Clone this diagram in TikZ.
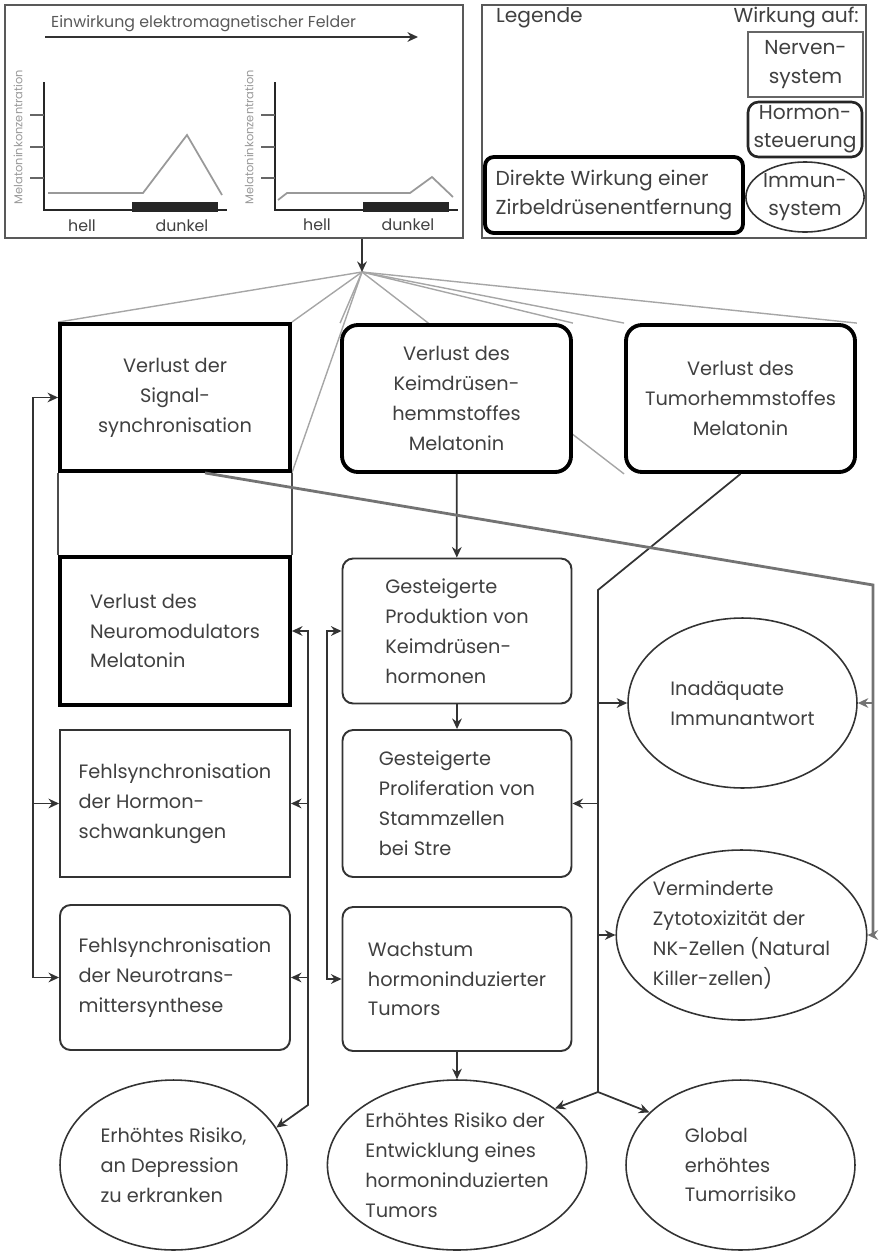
\documentclass[tikz,border=0pt]{standalone}
\usepackage{fontspec}
\setmainfont{Poppins}
\usepackage{tikz}
\usetikzlibrary{positioning, shapes.geometric, arrows.meta, backgrounds}
\hyphenpenalty=10000
\newcommand{\boxfont}{\fontsize{11}{17}\selectfont}
\newcommand{\legfont}{\fontsize{11.5}{16}\selectfont}
\newcommand{\chartfont}{\fontsize{9}{10}\selectfont}
\tikzset{
>={Stealth[length=6pt,width=5.5pt]}, % small filled arrow heads
every node/.style={text=black!75}, % the scan prints all text in dark grey
box/.style={draw=black!80, line width=1.1pt, fill=white, inner sep=0pt, minimum width=4.6cm, minimum height=2.94cm, align=center, font=\boxfont},
bold box/.style={box, draw=black, line width=2.2pt},
round box/.style={box, rounded corners=6pt},
bold round box/.style={bold box, rounded corners=9pt},
oval/.style={ellipse, draw=black!80, line width=0.9pt, fill=white, inner sep=0pt, minimum width=4.58cm, minimum height=3.4cm, align=left, font=\boxfont},
panel/.style={draw=black!65, line width=1.6pt, minimum width=9.16cm, minimum height=4.66cm},
link/.style={draw=black!80, line width=1pt},
fan/.style={draw=black!35, line width=0.8pt},
diag/.style={draw=black!55, line width=1.6pt},
axis/.style={draw=black!85, line width=1.4pt},
curve/.style={draw=black!40, line width=1pt},
}

\begin{document}
\begin{tikzpicture}[x=0.02cm, y=-0.02cm]
\useasboundingbox (0,0) rectangle (879,1251);

% the two panels at the top
\node[panel] (chart) at (234,121.5) {};
\node[panel, minimum width=7.68cm] (legend) at (674,121.5) {};

% melatonin level, light and dark
\node[anchor=west, font=\chartfont, text=black!65] (chtitle) at (45,24) {Einwirkung elektromagnetischer Felder};
\draw[link, ->] (45,37) -- (418,37);
\foreach \dx in {0,231} {
  \draw[axis] ({44+\dx},82) -- ({44+\dx},210) -- ({227+\dx},210);
  \foreach \ty in {115,147,178}
    \draw[axis, draw=black!60] ({30+\dx},\ty) -- ({44+\dx},\ty);
  \fill[black!85] ({132+\dx},202) rectangle ({218+\dx},212);
  \node[rotate=90, font=\fontsize{6.5}{7}\selectfont, text=black!40] at ({18+\dx},137) {Melatoninkonzentration};
}
\draw[curve] (48,193) -- (143,193) -- (187,135) -- (222,195);
\draw[curve] (278,200) -- (287,193) -- (410,193) -- (432,177) -- (453,197);
\node[font=\chartfont] (hell1) at (82,226) {hell};
\node[font=\chartfont] (dunkel1) at (182,226) {dunkel};
\node[font=\chartfont] (hell2) at (317,225) {hell};
\node[font=\chartfont] (dunkel2) at (408,225) {dunkel};

% legend
\node[anchor=west, font=\legfont] (legname) at (490,18) {Legende};
\node[anchor=east, font=\legfont] (legwirk) at (865,18) {Wirkung auf:};
\node[box, draw=black!60, line width=1.5pt, minimum width=2.3cm, minimum height=1.3cm, font=\legfont] (legnerv) at (805.5,64.5) {Nerven-\\system};
\node[round box, draw=black!85, line width=1.5pt, minimum width=2.28cm, minimum height=1.1cm, font=\legfont] (leghorm) at (805,129.5) {Hormon-\\steuerung};
\node[oval, minimum width=2.32cm, minimum height=1.4cm, font=\legfont, align=center] (legimmun) at (805,197) {Immun-\\system};
\node[bold round box, minimum width=5.16cm, minimum height=1.52cm, font=\legfont, align=left, rounded corners=5pt] (legdirekt) at (614,195) {Direkte Wirkung einer\\Zirbeldrüsenentfernung};

% direct effects
\node[bold box] (signal) at (175,397.5) {Verlust der\\Signal-\\synchronisation};
\node[bold round box, minimum width=4.58cm] (keim) at (456.5,398.5) {Verlust des\\Keimdrüsen-\\hemmstoffes\\Melatonin};
\node[bold round box, minimum width=4.58cm] (tumor) at (740.5,398.5) {Verlust des\\Tumorhemmstoffes\\Melatonin};
\node[bold box, minimum height=2.96cm, align=left] (neuro) at (175,631) {Verlust des\\Neuromodulators\\Melatonin};

% left column
\node[box, align=left] (hormsync) at (175,803.5) {Fehlsynchronisation\\der Hormon-\\schwankungen};
\node[round box, minimum height=2.9cm, align=left] (transsync) at (175,977.5) {Fehlsynchronisation\\der Neurotrans-\\mittersynthese};
\node[oval, minimum width=4.54cm] (depression) at (173.5,1165) {Erhöhtes Risiko,\\an Depression\\zu erkranken};

% middle column
\node[round box, minimum width=4.58cm, minimum height=2.9cm, align=left] (produktion) at (457,631) {Gesteigerte\\Produktion von\\Keimdrüsen-\\hormonen};
\node[round box, minimum width=4.58cm, align=left] (prolif) at (457,803.5) {Gesteigerte\\Proliferation von\\Stammzellen\\bei Stre};
\node[round box, minimum width=4.58cm, minimum height=2.88cm, align=left] (wachstum) at (457,979) {Wachstum\\hormoninduzierter\\Tumors};
\node[oval, minimum width=4.6cm] (risiko) at (457,1165) {Erhöhtes Risiko der\\Entwicklung eines\\hormoninduzierten\\Tumors};

% right column
\node[oval] (immun) at (742.5,703) {Inadäquate\\Immunantwort};
\node[oval, minimum width=4.54cm] (nk) at (741.5,935) {Verminderte\\Zytotoxizität der\\NK-Zellen (Natural\\Killer-zellen)};
\node[oval] (global) at (740.5,1165) {Global\\erhöhtes\\Tumorrisiko};

% bus lines
\coordinate (hub) at (362,272);
\coordinate (lbus) at (33,0);
\coordinate (rbus) at (308,0);
\coordinate (rbend) at (308,1105);
\coordinate (mbus) at (327,0);
\coordinate (tbend) at (598,590);
\coordinate (tbfork) at (598,1092);
\coordinate (dbend) at (873,585);

\begin{scope}[on background layer]
  \foreach \corner in {signal.north west, signal.north east, signal.south east, keim.north west, keim.north east, tumor.north west, tumor.north east, tumor.south west}
    \draw[fan] (hub) -- (\corner);
\end{scope}

\draw[link, ->] (chart.south -| hub) -- (hub);
\draw[link, draw=black!70, line width=1.3pt] (signal.south west) -- (neuro.north west)
                                             (signal.south east) -- (neuro.north east);

\draw[link, <->] (signal.west) -- (signal.west -| lbus) -- (transsync.west -| lbus) -- (transsync.west);
\draw[link, ->] (hormsync.west -| lbus) -- (hormsync.west);

\draw[link, <->] (neuro.east) -- (neuro.east -| rbus) -- (rbend) -- (depression.20);
\draw[link, <-] (hormsync.east) -- (hormsync.east -| rbus);
\draw[link, <-] (transsync.east) -- (transsync.east -| rbus);

\draw[link, <->] (produktion.west) -- (produktion.west -| mbus) -- (wachstum.west -| mbus) -- (wachstum.west);
\draw[link, ->] (keim) -- (produktion);
\draw[link, ->] (produktion) -- (prolif);
\draw[link, ->] (wachstum) -- (risiko);

\draw[link, ->] (tumor.south) -- (tbend) -- (tbfork) -- (risiko.30);
\draw[link, ->] (tbfork) -- (global.150);
\draw[link, ->] (prolif.east -| tbend) -- (prolif.east);
\draw[link, ->] (immun.west -| tbend) -- (immun.west);
\draw[link, ->] (nk.west -| tbend) -- (nk.west);

\draw[diag, ->] ([xshift=0.6cm]signal.south) -- (dbend) -- (nk.east -| dbend) -- (nk.east);
\draw[diag, ->] (immun.east -| dbend) -- (immun.east);
\end{tikzpicture}
\end{document}
